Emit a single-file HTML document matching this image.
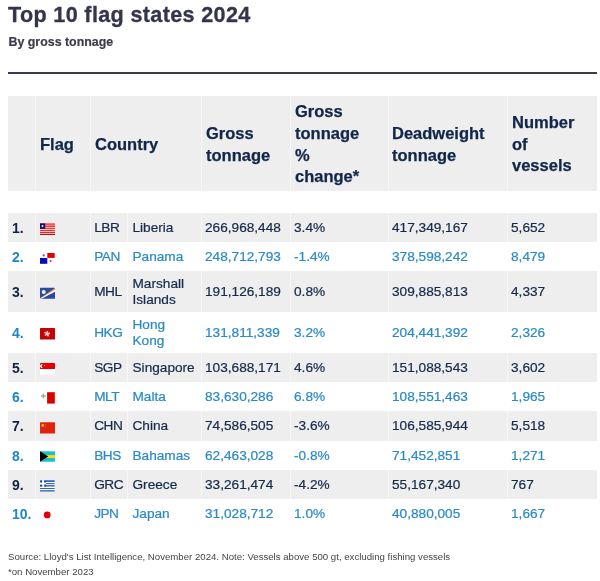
<!DOCTYPE html>
<html lang="en">
<head>
<meta charset="utf-8">
<title>Top 10 flag states 2024</title>
<style>
html,body{margin:0;padding:0;background:#fff;}
body{width:600px;height:581px;position:relative;overflow:hidden;font-family:"Liberation Sans",sans-serif;color:#1b2f4f;}
h1{-webkit-text-stroke:.3px currentColor;position:absolute;left:8px;top:1px;margin:0;font-size:21.6px;letter-spacing:.34px;line-height:28px;font-weight:bold;color:#34344a;white-space:nowrap;}
h2{-webkit-text-stroke:.2px currentColor;position:absolute;left:8.5px;top:33.5px;margin:0;font-size:12.4px;line-height:16px;font-weight:bold;color:#3c3c4c;white-space:nowrap;}
.rule{position:absolute;left:8px;top:72px;width:589px;height:2px;background:#3a3a4c;}
table{position:absolute;left:8px;top:96px;width:589px;border-collapse:separate;border-spacing:0;table-layout:fixed;}
th,td{padding:0 0 0 5px;margin:0;text-align:left;vertical-align:middle;border-left:1px solid rgba(255,255,255,.5);overflow:hidden;white-space:nowrap;}
th:first-child,td:first-child{border-left:none;}
thead th{height:93px;padding:2px 0 0 4px;background:#eee;font-size:16.5px;line-height:21.6px;font-weight:bold;color:#10264a;white-space:normal;-webkit-text-stroke:.25px currentColor;}
tr.gap td{height:22px;background:#fff;border:none;padding:0;}
tbody td{height:29px;font-size:13.65px;line-height:16px;padding-left:3px;-webkit-text-stroke:.22px currentColor;}
tbody tr.tall td{height:41px;}
tbody tr.r30 td{height:30px;}
tbody tr.g td{background:#eee;color:#162a4a;}
tbody tr.g td.n{color:#0f2343;}
tbody tr.b td{background:#fff;color:#2a8ac7;}
tbody tr.b td.n{color:#1f86c8;}
td.n{font-weight:bold;font-size:14px;padding-left:4px;-webkit-text-stroke:0;}
td.c{letter-spacing:-.55px;padding-left:3.3px;}
td.name{white-space:normal;padding-left:4.5px;}
svg.f{display:block;position:relative;top:1.5px;left:1px;overflow:visible;}
.foot{position:absolute;left:8px;font-size:9.65px;line-height:12px;color:#444;white-space:nowrap;}
</style>
</head>
<body>
<h1>Top 10 flag states 2024</h1>
<h2>By gross tonnage</h2>
<div class="rule"></div>
<table>
<colgroup>
<col style="width:27px"><col style="width:55px"><col style="width:37px"><col style="width:74px"><col style="width:89px"><col style="width:98px"><col style="width:119px"><col style="width:90px">
</colgroup>
<thead>
<tr><th></th><th>Flag</th><th colspan="2">Country</th><th>Gross<br>tonnage</th><th>Gross<br>tonnage<br>%<br>change*</th><th style="padding-left:3px">Deadweight<br>tonnage</th><th>Number<br>of<br>vessels</th></tr>
</thead>
<tbody>
<tr class="gap"><td colspan="8"></td></tr>
<tr class="g"><td class="n">1.</td><td><svg class="f" width="15" height="12" viewBox="0 0 15 12"><rect y="0.2" width="15" height="11.8" fill="#f9cfcf"/><rect y="0.4" width="15" height="1.4" fill="#f23c3c"/><rect y="2.5" width="15" height="1.4" fill="#dc3030"/><rect y="4.8" width="15" height="1.1" fill="#ee3030"/><rect y="6.9" width="15" height="1.1" fill="#d63c3c"/><rect y="8.9" width="15" height="1.1" fill="#e82222"/><rect y="10.9" width="15" height="1.1" fill="#a81414"/><rect y="0.4" width="5.2" height="5.4" fill="#0b0b7a"/><circle cx="2.5" cy="3.1" r="1.05" fill="#eeeeff"/></svg></td><td class="c">LBR</td><td class="name">Liberia</td><td>266,968,448</td><td>3.4%</td><td>417,349,167</td><td>5,652</td></tr>
<tr class="b"><td class="n">2.</td><td><svg class="f" width="15" height="12" viewBox="0 0 15 12"><rect x="7.3" y="1" width="7.4" height="4.9" fill="#e00000"/><rect x="0" y="6" width="7.3" height="5.8" fill="#0a0ac0"/><circle cx="3.7" cy="3.4" r="1.1" fill="#5a5ad0"/><circle cx="10.6" cy="9.1" r="1" fill="#e02020"/></svg></td><td class="c">PAN</td><td class="name">Panama</td><td>248,712,793</td><td>-1.4%</td><td>378,598,242</td><td>8,479</td></tr>
<tr class="g tall"><td class="n">3.</td><td><svg class="f" width="15" height="12" viewBox="0 0 15 12"><rect y="0.8" width="15" height="11" rx="0.5" fill="#2b49a0"/><polygon points="0,11.3 15,1 15,3 0,11.7" fill="#f0a030"/><polygon points="0,11.6 15,2.8 15,4.8 1.4,11.8 0,11.8" fill="#fff"/><circle cx="3.7" cy="4.9" r="2" fill="#eef2ff"/></svg></td><td class="c">MHL</td><td class="name">Marshall<br>Islands</td><td>191,126,189</td><td>0.8%</td><td>309,885,813</td><td>4,337</td></tr>
<tr class="b tall"><td class="n">4.</td><td><svg class="f" width="15" height="12" viewBox="0 0 15 12"><rect width="15" height="11.4" rx="0.5" fill="#c40404"/><path d="M7.1 5.7 L7.1 2.9 L8.2 4.1 Z M7.1 5.7 L9.8 4.9 L9 6.4 Z M7.1 5.7 L8.7 8.1 L7.1 7.8 Z M7.1 5.7 L5.3 7.9 L5.2 6.4 Z M7.1 5.7 L4.4 4.7 L5.9 4.1 Z" fill="#fff" stroke="#ffd6d6" stroke-width="0.7" stroke-linejoin="round"/></svg></td><td class="c">HKG</td><td class="name">Hong<br>Kong</td><td>131,811,339</td><td>3.2%</td><td>204,441,392</td><td>2,326</td></tr>
<tr class="g"><td class="n">5.</td><td><svg class="f" width="15" height="12" viewBox="0 0 15 12"><rect width="15" height="11.6" rx="0.5" fill="#fff"/><rect width="15" height="6" rx="0.4" fill="#e60000"/><path d="M2.7 1.2 A2 2 0 1 0 2.7 5 A2.4 2.4 0 0 1 2.7 1.2 Z" fill="#fff"/><circle cx="4.6" cy="2.4" r="0.6" fill="#ffb0b0"/></svg></td><td class="c">SGP</td><td class="name">Singapore</td><td>103,688,171</td><td>4.6%</td><td>151,088,543</td><td>3,602</td></tr>
<tr class="b"><td class="n">6.</td><td><svg class="f" width="15" height="12" viewBox="0 0 15 12"><rect x="7.1" y="0.2" width="7.7" height="11.4" fill="#d90000"/><path d="M3.4 1.6 V6.4 M1 4 H5.8" stroke="#a9a997" stroke-width="1.5" fill="none"/></svg></td><td class="c">MLT</td><td class="name">Malta</td><td>83,630,286</td><td>6.8%</td><td>108,551,463</td><td>1,965</td></tr>
<tr class="g r30"><td class="n">7.</td><td><svg class="f" width="15" height="12" viewBox="0 0 15 12"><rect y="0.2" width="15" height="11.4" rx="0.5" fill="#e0220e"/><circle cx="2.7" cy="3.4" r="1.3" fill="#ffc81e"/><path d="M5.2 1.8 Q6.8 3.4 5.2 5.4" stroke="#f4502a" stroke-width="0.7" fill="none"/></svg></td><td class="c">CHN</td><td class="name">China</td><td>74,586,505</td><td>-3.6%</td><td>106,585,944</td><td>5,518</td></tr>
<tr class="b"><td class="n">8.</td><td><svg class="f" width="15" height="12" viewBox="0 0 15 12"><rect y="0.3" width="15" height="10.4" fill="#12c2d2"/><rect y="4.1" width="15" height="3" fill="#ffdc00"/><polygon points="0,0.3 8.2,5.5 0,10.7" fill="#000"/></svg></td><td class="c">BHS</td><td class="name">Bahamas</td><td>62,463,028</td><td>-0.8%</td><td>71,452,851</td><td>1,271</td></tr>
<tr class="g"><td class="n">9.</td><td><svg class="f" width="15" height="12" viewBox="0 0 15 12"><rect width="15" height="11.8" fill="#fff"/><rect y="0.2" width="14.7" height="1.8" fill="#336db6"/><rect y="3.1" width="14.7" height="0.9" fill="#2a62b0"/><rect y="4.8" width="14.7" height="1.8" fill="#4577bc"/><rect y="8" width="14.7" height="0.9" fill="#1e58a8"/><rect y="10.1" width="14.7" height="1.5" fill="#3a74b8"/><rect x="0" y="0" width="6" height="6.9" fill="#fff"/><rect x="0.1" y="0.3" width="2.1" height="2.2" fill="#0a4a9c"/><rect x="4.1" y="0.3" width="1.9" height="2.2" fill="#0a4a9c"/><rect x="0.1" y="4.6" width="2.1" height="2.1" fill="#0a4a9c"/><rect x="4.1" y="4.6" width="1.9" height="2.1" fill="#0a4a9c"/></svg></td><td class="c">GRC</td><td class="name">Greece</td><td>33,261,474</td><td>-4.2%</td><td>55,167,340</td><td>767</td></tr>
<tr class="b"><td class="n">10.</td><td><svg class="f" width="15" height="12" viewBox="0 0 15 12"><circle cx="7.2" cy="5.9" r="3.4" fill="#e0000c"/></svg></td><td class="c">JPN</td><td class="name">Japan</td><td>31,028,712</td><td>1.0%</td><td>40,880,005</td><td>1,667</td></tr>
</tbody>
</table>
<div class="foot" style="top:550.6px">Source: Lloyd's List Intelligence, November 2024. Note: Vessels above 500 gt, excluding fishing vessels</div>
<div class="foot" style="top:565.6px">*on November 2023</div>
</body>
</html>
